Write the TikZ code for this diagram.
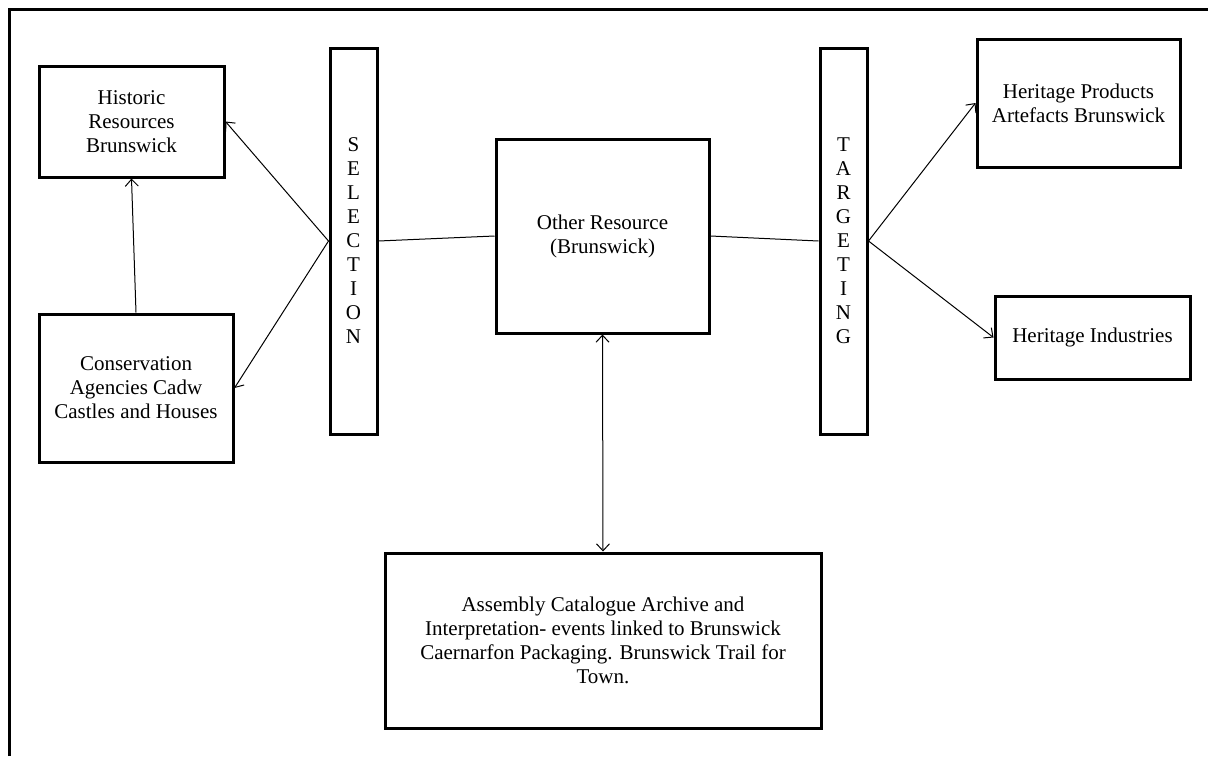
\documentclass[tikz,border=0pt]{standalone}
\usepackage{fontspec}
\setmainfont{Liberation Serif}
\usetikzlibrary{arrows.meta}
\begin{document}
\begin{tikzpicture}[x=1pt,y=-1pt,
  box/.style={draw,line width=3pt,rectangle,inner sep=0pt,align=center,
    font=\fontsize{21}{24}\selectfont},
  conn/.style={line width=1pt},
  arr/.style={conn,-{Straight Barb[length=7pt,width=13pt]}},
  darr/.style={conn,{Straight Barb[length=7pt,width=13pt]}-{Straight Barb[length=7pt,width=13pt]}}]
\useasboundingbox (0,0) rectangle (1208,756);
\fill[white] (0,0) rectangle (1208,756);
\draw[line width=3pt] (9,756) -- (9,9) -- (1208,9);

\node[box,minimum width=185pt,minimum height=111pt] (hist) at (131.5,121.5) {Historic\\Resources\\Brunswick};
\node[box,minimum width=194pt,minimum height=148pt] (cons) at (136,388) {Conservation\\Agencies Cadw\\Castles and Houses};
\node[box,minimum width=47pt,minimum height=386pt] (sel) at (353.5,241) {S\\E\\L\\E\\C\\T\\I\\O\\N};
\node[box,minimum width=213pt,minimum height=194pt] (other) at (602.5,236) {Other Resource\\(Brunswick)};
\node[box,minimum width=47pt,minimum height=386pt] (targ) at (843.5,241) {T\\A\\R\\G\\E\\T\\I\\N\\G};
\node[box,minimum width=203pt,minimum height=128pt] (hp) at (1078.5,103) {Heritage Products\\Artefacts Brunswick};
\node[box,minimum width=195pt,minimum height=83pt] (hi) at (1092.5,337.5) {Heritage Industries};
\node[box,minimum width=436pt,minimum height=175pt] (asm) at (603,640.5) {Assembly Catalogue Archive and\\Interpretation- events linked to Brunswick\\Caernarfon Packaging. Brunswick Trail for\\Town.};

\draw[arr] (cons.north) -- (hist.south);
\draw[arr] (sel.west) -- (hist.east);
\draw[arr] (sel.west) -- (cons.east);
\draw[conn] (sel.east) -- (other.west);
\draw[conn] (other.east) -- (targ.west);
\draw[arr] (targ.east) -- (hp.west);
\draw[arr] (targ.east) -- (hi.west);
\draw[darr] (other.south) -- (asm.north);
\end{tikzpicture}
\end{document}
